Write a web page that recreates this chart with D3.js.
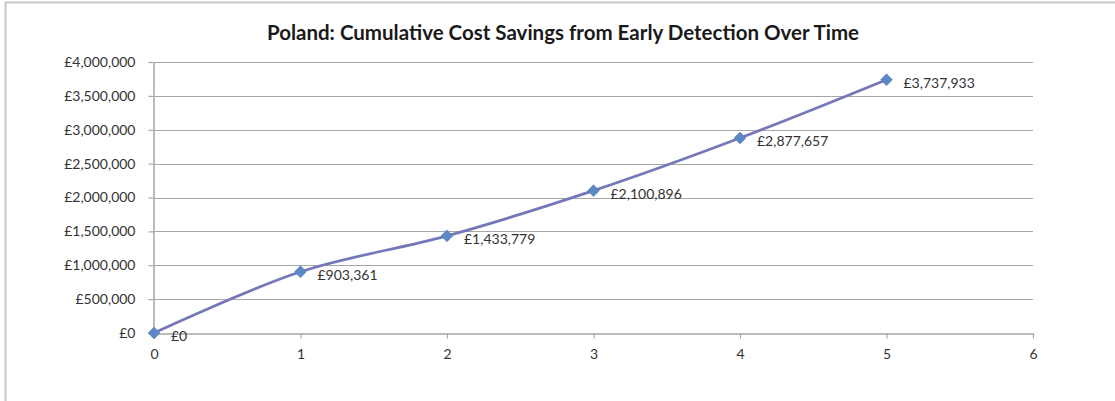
<!DOCTYPE html>
<html>
<head>
<meta charset="utf-8">
<script src="https://cdn.jsdelivr.net/npm/d3@7"></script>
<style>
  body { margin: 0; background: #fff; }
  svg { display: block; font-family: Lato, "Open Sans", sans-serif; }
</style>
</head>
<body>
<div id="chart"></div>
<script>
const title = "Poland: Cumulative Cost Savings from Early Detection Over Time";
const years = [0, 1, 2, 3, 4, 5];
const savings = [0, 903361, 1433779, 2100896, 2877657, 3737933];
const xTicks = [0, 1, 2, 3, 4, 5, 6];
const yTicks = [0, 500000, 1000000, 1500000, 2000000, 2500000, 3000000, 3500000, 4000000];

const width = 1115, height = 401;
const margin = {left: 154, right: 82, top: 62, bottom: 68};

const svg = d3.select("#chart").append("svg")
    .attr("width", width)
    .attr("height", height);

// outer chart frame (only left/top edges are visible in the crop)
svg.append("path")
    .attr("d", `M5.5,${height}V2.5H${width}`)
    .attr("fill", "none")
    .attr("stroke", "#c8c8c8")
    .attr("stroke-width", 2);

const x = d3.scaleLinear().domain([0, 6]).range([margin.left, width - margin.right]);
const y = d3.scaleLinear().domain([0, 4000000]).range([height - margin.bottom, margin.top]);

const pounds = v => "£" + d3.format(",")(v);

// gridlines
svg.append("g")
    .selectAll("line")
    .data(yTicks.slice(1))
    .join("line")
    .attr("x1", x(0))
    .attr("x2", x(6))
    .attr("y1", d => Math.round(y(d)) + 0.5)
    .attr("y2", d => Math.round(y(d)) + 0.5)
    .attr("stroke", "#a6a6a6")
    .attr("stroke-width", 1.2);

// y axis
const yAxis = svg.append("g")
    .attr("transform", `translate(${Math.round(x(0)) - 0.5},0)`)
    .call(d3.axisLeft(y).tickValues(yTicks).tickFormat(pounds).tickSize(5).tickPadding(13).tickSizeOuter(0));

// x axis
const xAxis = svg.append("g")
    .attr("transform", `translate(0,${Math.round(y(0)) + 0.5})`)
    .call(d3.axisBottom(x).tickValues(xTicks).tickFormat(d3.format("d")).tickSize(5).tickPadding(11).tickSizeOuter(0));

[yAxis, xAxis].forEach(ax => {
    ax.select(".domain").attr("stroke", "#a6a6a6").attr("stroke-width", 1.5);
    ax.selectAll(".tick line").attr("stroke", "#a6a6a6").attr("stroke-width", 1.2);
    ax.selectAll(".tick text")
        .attr("fill", "#333")
        .style("font-size", "14px")
        .style("font-family", "Lato, 'Open Sans', sans-serif");
});

// smoothed series line
const line = d3.line()
    .x((d, i) => x(years[i]))
    .y(d => y(d))
    .curve(d3.curveCatmullRom.alpha(0.5));

svg.append("path")
    .datum(savings)
    .attr("d", line)
    .attr("fill", "none")
    .attr("stroke", "#7478b8")
    .attr("stroke-width", 2.75);

// diamond markers
svg.append("g")
    .selectAll("path")
    .data(savings)
    .join("path")
    .attr("transform", (d, i) => `translate(${x(years[i])},${y(d)})`)
    .attr("d", d3.symbol(d3.symbolDiamond2, 90))
    .attr("fill", "#5b87c5")
    .attr("stroke", "#4f7bbb")
    .attr("stroke-width", 0.5);

// data labels
svg.append("g")
    .selectAll("text")
    .data(savings)
    .join("text")
    .attr("x", (d, i) => x(years[i]) + 17)
    .attr("y", d => y(d) + 8)
    .attr("fill", "#333")
    .style("font-size", "14px")
    .text(pounds);

svg.append("text")
    .attr("x", 563)
    .attr("y", 40)
    .attr("text-anchor", "middle")
    .attr("fill", "#1a1a1a")
    .style("font-size", "20.5px")
    .style("font-weight", "bold")
    .text(title);
</script>
</body>
</html>
